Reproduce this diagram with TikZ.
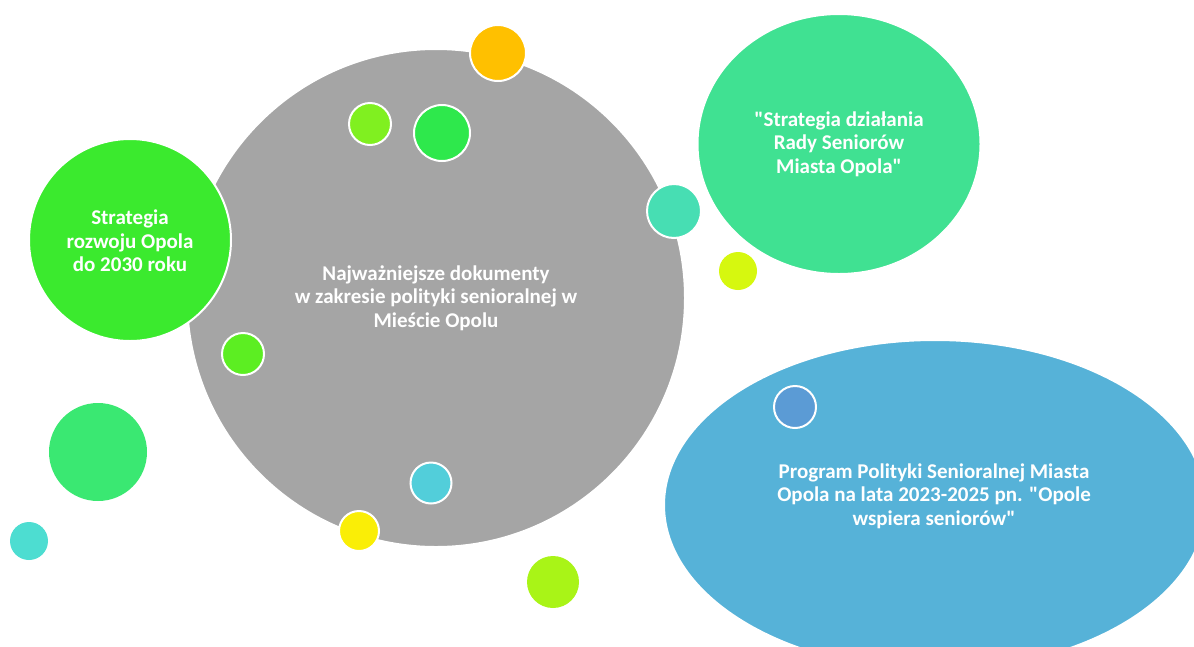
\documentclass[tikz,border=0pt]{standalone}
\usepackage{fontspec}
\newfontfamily\carl{Carlito}
\usetikzlibrary{shapes.geometric}
\definecolor{cgray}{HTML}{A5A5A5}
\definecolor{cgreenL}{HTML}{3BEA2E}
\definecolor{cgreenTR}{HTML}{40E192}
\definecolor{cblue}{HTML}{56B2D8}
\definecolor{corange}{HTML}{FFC000}
\definecolor{climeS}{HTML}{80F020}
\definecolor{cgreenM}{HTML}{2EE84C}
\definecolor{cteal}{HTML}{47DEB3}
\definecolor{cyg}{HTML}{D6F80F}
\definecolor{cgreenS}{HTML}{5CEE22}
\definecolor{ccyan}{HTML}{52CEDA}
\definecolor{cyellow}{HTML}{FAEE06}
\definecolor{climeB}{HTML}{A9F417}
\definecolor{cgreenBL}{HTML}{3AE872}
\definecolor{ctealS}{HTML}{4DDDD1}
\definecolor{cblueS}{HTML}{5B9BD5}
\tikzset{
  bubble/.style={circle, inner sep=0pt, draw=white, line width=2pt},
  plain/.style={circle, inner sep=0pt, draw=none},
  oval/.style={ellipse, inner sep=0pt, draw=white, line width=2pt},
  label/.style={text=white, font=\carl\fontsize{21}{23.5}\selectfont\bfseries, align=center}
}
\begin{document}
\begin{tikzpicture}[x=1pt, y=-1pt]
\useasboundingbox (0,0) rectangle (1194,646);
% main gray circle
\node[bubble, fill=cgray, minimum size=498pt] (main) at (436,298) {};
\node[label] (mainT) at (436,298) {Najważniejsze dokumenty\\w zakresie polityki senioralnej w\\Mieście Opolu};
% left green
\node[bubble, fill=cgreenL, minimum size=202pt] (left) at (130,240) {};
\node[label] (leftT) at (130,241) {Strategia\\rozwoju Opola\\do 2030 roku};
% top right green ellipse
\node[oval, fill=cgreenTR, minimum width=283pt, minimum height=260pt] (tr) at (839,144) {};
\node[label] (trT) at (839,144) {"Strategia działania\\Rady Seniorów\\Miasta Opola"};
% blue ellipse
\node[oval, fill=cblue, minimum width=542pt, minimum height=330pt] (br) at (935,505) {};
\node[label] (brT) at (934,496) {Program Polityki Senioralnej Miasta\\Opola na lata 2023-2025 pn. "Opole\\wspiera seniorów"};
% small bubbles
\node[bubble, fill=corange, minimum size=56pt] (b1) at (498,53) {};
\node[bubble, fill=climeS, minimum size=42pt] (b2) at (370,124) {};
\node[bubble, fill=cgreenM, minimum size=56pt] (b3) at (442,133) {};
\node[bubble, fill=cteal, minimum size=54pt] (b4) at (674,211) {};
\node[plain, fill=cyg, minimum size=38pt] (b5) at (738,271) {};
\node[bubble, fill=cgreenS, minimum size=42pt] (b6) at (243,354) {};
\node[bubble, fill=ccyan, minimum size=41pt] (b7) at (431,483) {};
\node[bubble, fill=cyellow, minimum size=40pt] (b8) at (359,531) {};
\node[plain, fill=climeB, minimum size=52pt] (b9) at (553,582) {};
\node[plain, fill=cgreenBL, minimum size=98pt] (b10) at (98,452) {};
\node[plain, fill=ctealS, minimum size=38pt] (b11) at (29,541) {};
\node[bubble, fill=cblueS, minimum size=42pt] (b12) at (795,407) {};
\end{tikzpicture}
\end{document}
